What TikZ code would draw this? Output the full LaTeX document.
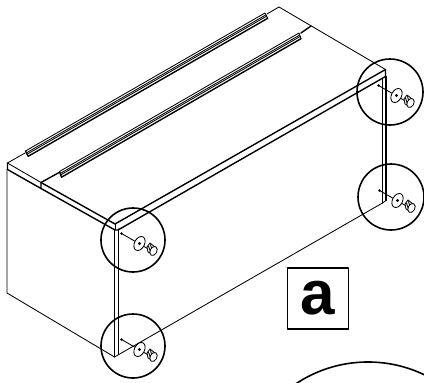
\documentclass[tikz,border=0pt]{standalone}
\usepackage{fontspec}
\setmainfont{Liberation Sans}
\tikzset{
	edgeline/.style={line width=.85pt},
	slabline/.style={line width=1.4pt},
	ringline/.style={line width=1.6pt},
}
\begin{document}
\begin{tikzpicture}[x=1pt, y=-1pt, line join=round, line cap=round]
	\useasboundingbox (0,0) rectangle (424,383);
	% top of the unit
	\draw[edgeline] (25,153)--(7.5,163)--(41,182.5) (385.5,69.5)--(279,7)--(267,14);
	\draw[slabline] (7.5,163)--(7.5,169.5)--(41,188.5)--(41,182.5);
	\draw[slabline] (41,182.5)--(115,224)--(385.5,69.5)--(385.5,76.5)--(118,230)--(115,230)--(41,188.5);
	\draw[slabline] (41,182.5)--(60,172);
	\draw[slabline] (301,33)--(311,26);
	\draw[edgeline] (115,224)--(115,230);
	% body
	\draw[edgeline] (7,169.5)--(7,293)--(114.5,357)--(382.5,203)--(386,200.5);
	\draw[slabline] (114.5,230)--(114.5,357) (118.5,229)--(118.5,354.5);
	\draw[slabline] (382.5,78.5)--(382.5,203) (386,76.5)--(386,200.5);
	% rails on top
	\foreach \ax/\ay/\bx/\by/\dx/\dy in {25.5/151/265/13/2.7/5.3, 59.5/171.5/299/33/2/5.7}{
		\fill[white] (\ax,\ay)--(\bx,\by)--(\bx+\dx,\by+\dy)--(\ax+\dx,\ay+\dy)--cycle;
		\draw[edgeline] (\ax,\ay)--(\bx,\by)--(\bx+\dx,\by+\dy);
		\draw[edgeline] (\ax+.35*\dx,\ay+.35*\dy)--(\bx+.35*\dx,\by+.35*\dy);
		\draw[edgeline] (\ax+.6*\dx,\ay+.6*\dy)--(\bx+.6*\dx,\by+.6*\dy);
		\draw[slabline] (\ax,\ay)--(\ax+\dx,\ay+\dy)--(\bx+\dx,\by+\dy);
	}
	% detail rings with fasteners
	\foreach \cx/\cy/\r in {390/92/33, 391/197/33, 133/240/32, 133/346/32}{
		\draw[ringline] (\cx,\cy) circle (\r);
		\fill (\cx-11.5,\cy-6.5) circle (1.3);
		\draw[edgeline] (\cx-11.5,\cy-6.5)--(\cx+18,\cy+10.5);
		\draw[edgeline,fill=white,rotate around={-28:(\cx+6.5,\cy+3.5)}] (\cx+6.5,\cy+3.5) ellipse (5 and 7.5);
		\fill (\cx+6.5,\cy+3.5) circle (1.7);
		\draw[edgeline,fill=white] (\cx+14,\cy+7)--(\cx+17,\cy+3)--(\cx+22,\cy+7)--(\cx+19,\cy+14)--(\cx+15,\cy+12)--cycle;
		\draw[edgeline] (\cx+15.5,\cy+6)--(\cx+17.5,\cy+12) (\cx+17.5,\cy+4.5)--(\cx+18.5,\cy+8);
		\draw[edgeline,fill=white,rotate around={-28:(\cx+20.5,\cy+11)}] (\cx+20.5,\cy+11) ellipse (3.4 and 4.8);
	}
	% label
	\node[draw, line width=1.5pt, minimum size=61pt, inner sep=0pt, font=\fontsize{62}{62}\selectfont\bfseries] (labelA) at (318,298.5) {a};
	% next detail, cut by the page
	\draw[ringline] (368,492) circle (130);
\end{tikzpicture}
\end{document}
